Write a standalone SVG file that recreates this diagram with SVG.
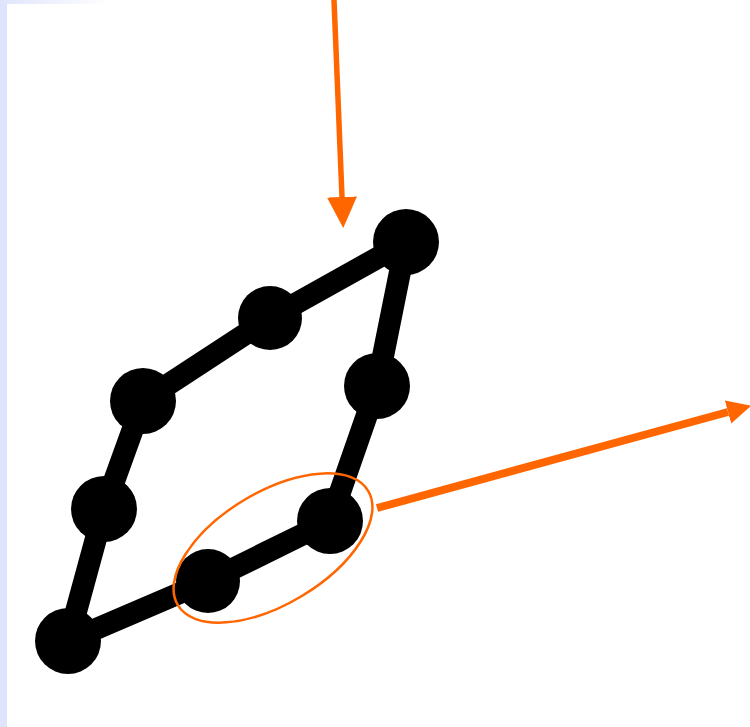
<svg xmlns="http://www.w3.org/2000/svg" width="750" height="727" viewBox="0 0 750 727">
  <defs>
    <linearGradient id="topfade" x1="0" y1="0" x2="1" y2="0">
      <stop offset="0" stop-color="#dfe4fc"/>
      <stop offset="1" stop-color="#ffffff"/>
    </linearGradient>
    <marker id="arrowDown" markerUnits="userSpaceOnUse" markerWidth="32" markerHeight="32" refX="0" refY="15" orient="auto" viewBox="0 0 32 30">
      <path d="M0,0 L31,15 L0,30 Z" fill="#ff6600"/>
    </marker>
    <marker id="arrowRight" markerUnits="userSpaceOnUse" markerWidth="26" markerHeight="26" refX="0" refY="12" orient="auto" viewBox="0 0 26 24">
      <path d="M0,0 L24,12 L0,24 Z" fill="#ff6600"/>
    </marker>
  </defs>
  <style>
    .node { fill: #000000; }
    .edge { fill: none; stroke: #000000; stroke-width: 22; stroke-linejoin: round; }
    .arrow { fill: none; stroke: #ff6600; }
    .ring { fill: none; stroke: #ff6600; stroke-width: 2.5; }
  </style>
  <rect width="750" height="727" fill="#ffffff"/>
  <rect x="0" y="0" width="7" height="727" fill="#dfe4fc"/>
  <rect x="0" y="0" width="110" height="4" fill="url(#topfade)"/>

  <g id="connectors">
    <polygon class="edge" points="406,242 270,318 143,401 104,509 68,641 208,581 330,521 377,386"/>
    <line class="arrow" x1="334" y1="0" x2="342" y2="197" stroke-width="5.5" marker-end="url(#arrowDown)"/>
    <line class="arrow" x1="377" y1="508" x2="728" y2="412" stroke-width="8" marker-end="url(#arrowRight)"/>
  </g>

  <g id="n-top-right"><circle class="node" cx="406" cy="242" r="33"/></g>
  <g id="n-top-mid"><circle class="node" cx="270" cy="318" r="32"/></g>
  <g id="n-top-left"><circle class="node" cx="143" cy="401" r="33"/></g>
  <g id="n-left-mid"><circle class="node" cx="104" cy="509" r="33"/></g>
  <g id="n-bottom-left"><circle class="node" cx="68" cy="641" r="33"/></g>
  <g id="n-bottom-mid"><circle class="node" cx="208" cy="581" r="32"/></g>
  <g id="n-bottom-right"><circle class="node" cx="330" cy="521" r="33"/></g>
  <g id="n-right-mid"><circle class="node" cx="377" cy="386" r="33"/></g>

  <g id="highlight">
    <ellipse class="ring" cx="273" cy="548" rx="111" ry="56" transform="rotate(-31 273 548)"/>
  </g>
</svg>
